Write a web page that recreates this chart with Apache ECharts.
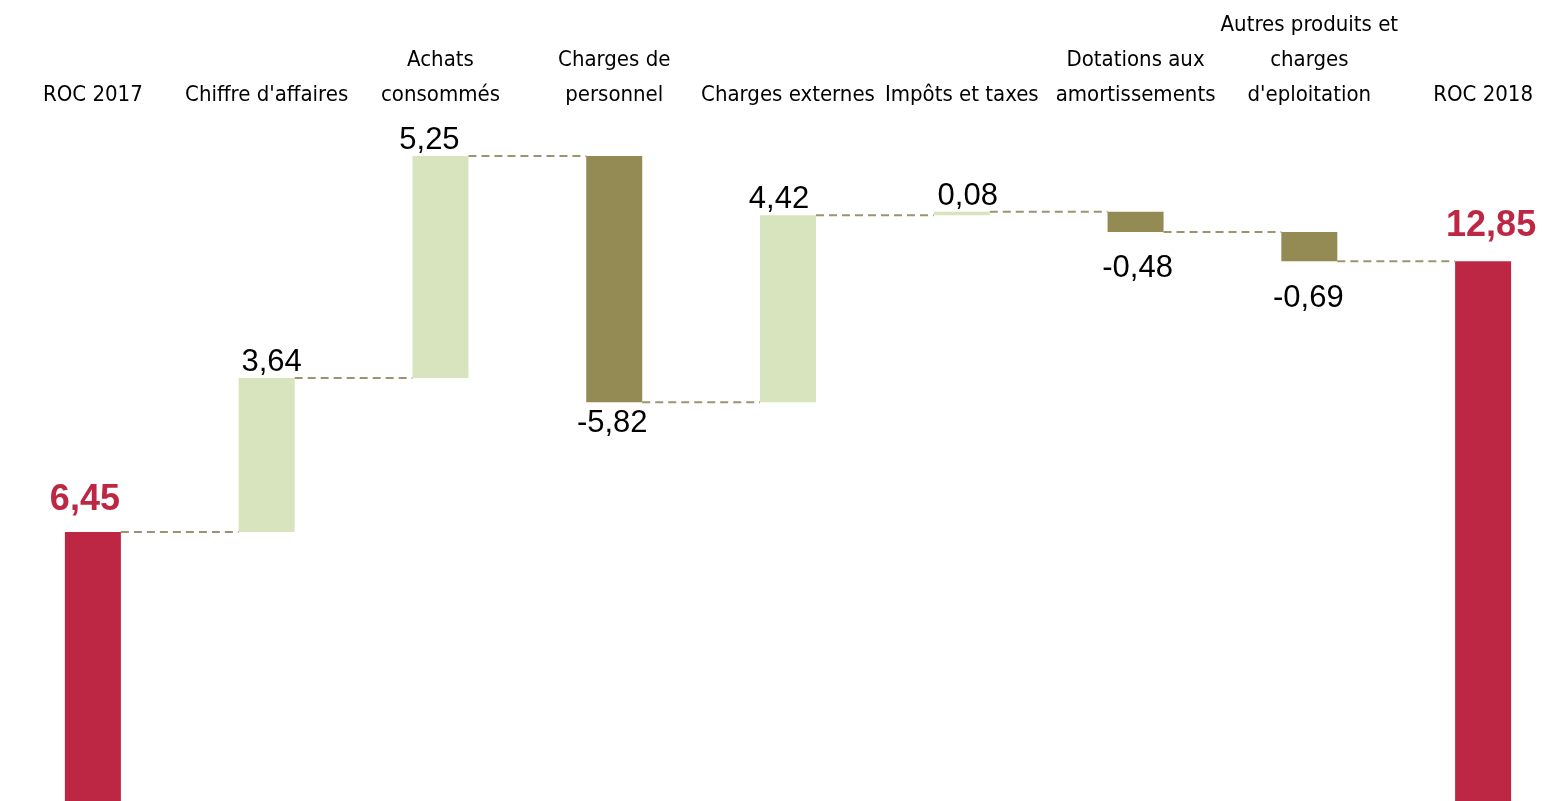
<!DOCTYPE html>
<html>
<head>
<meta charset="utf-8">
<script src="https://cdn.jsdelivr.net/npm/echarts@6/dist/echarts.min.js"></script>
<style>
  html, body { margin: 0; padding: 0; background: #fff; }
  #chart { width: 1555px; height: 801px; }
</style>
</head>
<body>
<div id="chart"></div>
<script>
// categories and values (ROC in M€)
const categories = [
  'ROC 2017',
  "Chiffre d'affaires",
  'Achats\nconsommés',
  'Charges de\npersonnel',
  'Charges externes',
  'Impôts et taxes',
  'Dotations aux\namortissements',
  "Autres produits et\ncharges\nd'eploitation",
  'ROC 2018'
];
const startTotal = 6.45;
const deltas = [3.64, 5.25, -5.82, 4.42, 0.08, -0.48, -0.69];
const endTotal = 12.85;

// label nudges, to follow the hand placed labels of the original
const labelDx = [-8, 5, -11, -2, -9, 6, 2, -1, 8];
const labelGap = [14, 0, 0, 6, 0, 0, 21, 22, 17];

const RED = '#BE2743';
const UP = '#D7E4BD';
const DOWN = '#948A54';
const BAR_W = 56;

const fmt = (v) => v.toFixed(2).replace('.', ',');

// running totals
const totals = [startTotal];
deltas.forEach((d) => totals.push(+(totals[totals.length - 1] + d).toFixed(2)));

const baseData = [0];
const barData = [];
barData.push({
  value: startTotal,
  itemStyle: { color: RED },
  label: { position: 'top', distance: labelGap[0], offset: [labelDx[0], 0],
    color: RED, fontWeight: 'bold', fontSize: 36 }
});
deltas.forEach((d, i) => {
  const before = totals[i];
  const after = totals[i + 1];
  baseData.push(Math.min(before, after));
  barData.push({
    value: Math.abs(d),
    itemStyle: { color: d >= 0 ? UP : DOWN },
    label: { position: d >= 0 ? 'top' : 'bottom', distance: labelGap[i + 1],
      offset: [labelDx[i + 1], 0] }
  });
});
baseData.push(0);
barData.push({
  value: endTotal,
  itemStyle: { color: RED },
  label: { position: 'top', distance: labelGap[8], offset: [labelDx[8], 0],
    color: RED, fontWeight: 'bold', fontSize: 36 }
});

const labelValues = [startTotal, ...deltas, endTotal];

// connector lines: level after each bar, to the next bar
const connectors = totals.map((t, i) => [i, t]);

const chart = echarts.init(document.getElementById('chart'));
chart.setOption({
  animation: false,
  grid: {
    left: 6,
    right: -15,
    top: 128,
    bottom: -4,
    outerBoundsMode: 'none'
  },
  xAxis: {
    type: 'category',
    position: 'top',
    data: categories,
    axisLine: { show: false },
    axisTick: { show: false },
    axisLabel: {
      interval: 0,
      margin: 15,
      color: '#000',
      fontFamily: '"Liberation Sans Narrow", "DejaVu Sans Condensed", sans-serif',
      fontSize: 22,
      lineHeight: 35
    }
  },
  yAxis: {
    type: 'value',
    min: 0,
    max: 16,
    show: false,
    splitLine: { show: false }
  },
  series: [
    {
      type: 'bar',
      stack: 'wf',
      barWidth: BAR_W,
      data: baseData,
      itemStyle: { color: 'transparent' },
      silent: true
    },
    {
      type: 'bar',
      stack: 'wf',
      barWidth: BAR_W,
      data: barData,
      label: {
        show: true,
        fontFamily: '"Liberation Sans", Arial, sans-serif',
        fontSize: 31,
        color: '#000',
        formatter: (p) => fmt(labelValues[p.dataIndex])
      }
    },
    {
      type: 'custom',
      data: connectors,
      encode: { x: 0, y: 1 },
      z: 1,
      renderItem: (params, api) => {
        const i = api.value(0);
        const y = api.value(1);
        const p1 = api.coord([i, y]);
        const p2 = api.coord([i + 1, y]);
        return {
          type: 'line',
          shape: {
            x1: p1[0] + BAR_W / 2,
            y1: p1[1],
            x2: p2[0] - BAR_W / 2,
            y2: p2[1]
          },
          style: {
            stroke: '#9C9470',
            lineWidth: 2,
            lineDash: [8, 5]
          }
        };
      }
    }
  ]
});
</script>
</body>
</html>
